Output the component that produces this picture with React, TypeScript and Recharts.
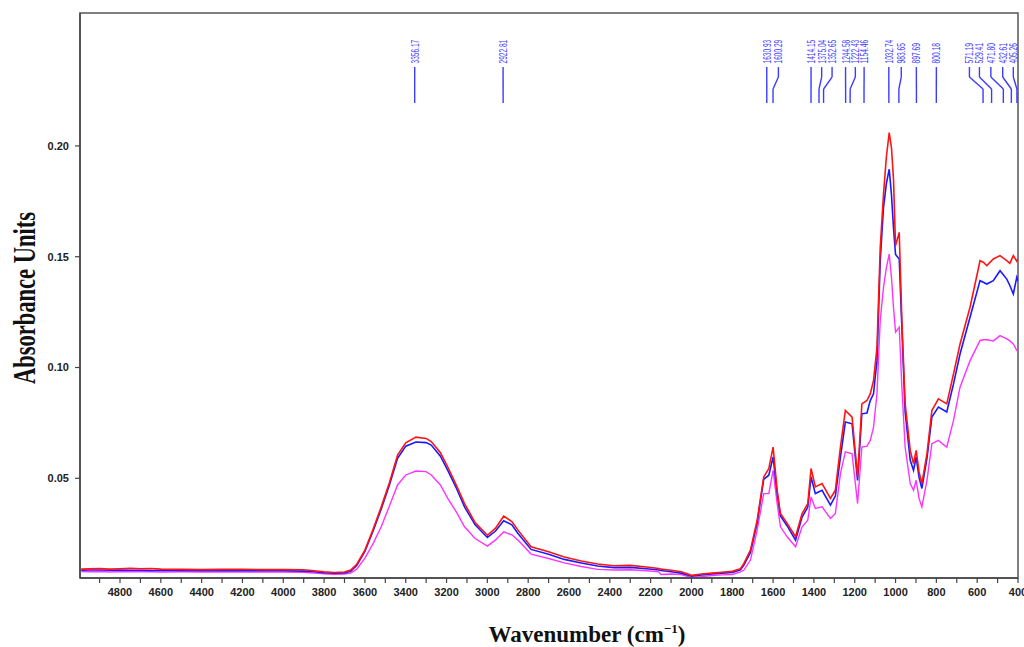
import React from "react";
import {
  LineChart,
  Line,
  XAxis,
  YAxis,
  ReferenceLine,
  ReferenceDot,
  ReferenceArea,
} from "recharts";

// Wavenumber (cm-1), descending
const wavenumbers = [
  4990, 4950, 4900, 4850, 4800, 4750, 4700, 4650, 4600, 4500, 4400, 4300, 4200, 4100, 4000,
  3900, 3850, 3800, 3750, 3700, 3670, 3640, 3600, 3560, 3520, 3480, 3440, 3400, 3350, 3300,
  3275, 3230, 3194, 3150, 3112, 3060, 3000, 2960, 2920, 2880, 2850, 2786, 2700, 2623, 2540,
  2460, 2380, 2300, 2220, 2160, 2150, 2100, 2050, 2000, 1950, 1900, 1850, 1800, 1760, 1743,
  1711, 1678, 1646, 1621, 1600, 1580, 1564, 1531, 1490, 1458, 1430, 1414, 1393, 1360, 1319,
  1295, 1270, 1246, 1213, 1186, 1165, 1140, 1124, 1108, 1091, 1075, 1059, 1045, 1031, 1020,
  1010, 1000, 982, 969, 953, 928, 912, 899, 885, 871, 846, 822, 790, 749, 716,
  684, 635, 586, 570, 553, 521, 488, 455, 440, 423, 406, 400,
];

const redSeries = [
  0.0090, 0.0091, 0.0093, 0.0090, 0.0092, 0.0094, 0.0092, 0.0093, 0.0090, 0.0089, 0.0088, 0.0089, 0.0089, 0.0088, 0.0088,
  0.0087, 0.0083, 0.0078, 0.0075, 0.0077, 0.0086, 0.0112, 0.0176, 0.0270, 0.0371, 0.0480, 0.0605, 0.0660, 0.0686, 0.0680,
  0.0666, 0.0615, 0.0551, 0.0465, 0.0386, 0.0300, 0.0243, 0.0275, 0.0329, 0.0305, 0.0266, 0.0191, 0.0168, 0.0145, 0.0127,
  0.0113, 0.0105, 0.0107, 0.0100, 0.0093, 0.0090, 0.0085, 0.0078, 0.0062, 0.0068, 0.0072, 0.0076, 0.0080, 0.0092, 0.0116,
  0.0176, 0.0311, 0.0506, 0.0544, 0.0641, 0.0446, 0.0341, 0.0296, 0.0236, 0.0341, 0.0386, 0.0544, 0.0461, 0.0476, 0.0409,
  0.0446, 0.0641, 0.0806, 0.0776, 0.0506, 0.0836, 0.0851, 0.0881, 0.0941, 0.1090, 0.1542, 0.1782, 0.1950, 0.2060, 0.1992,
  0.1850, 0.1550, 0.1610, 0.1212, 0.0836, 0.0626, 0.0566, 0.0626, 0.0530, 0.0476, 0.0611, 0.0806, 0.0859, 0.0836, 0.0971,
  0.1106, 0.1272, 0.1482, 0.1475, 0.1460, 0.1490, 0.1505, 0.1482, 0.1470, 0.1505, 0.1480, 0.1490,
];

const blueSeries = [
  0.0085, 0.0086, 0.0086, 0.0085, 0.0086, 0.0085, 0.0085, 0.0084, 0.0084, 0.0084, 0.0083, 0.0083, 0.0083, 0.0083, 0.0083,
  0.0081, 0.0078, 0.0074, 0.0072, 0.0073, 0.0080, 0.0106, 0.0170, 0.0262, 0.0362, 0.0470, 0.0590, 0.0645, 0.0664, 0.0661,
  0.0650, 0.0600, 0.0536, 0.0452, 0.0371, 0.0290, 0.0233, 0.0262, 0.0308, 0.0290, 0.0251, 0.0179, 0.0157, 0.0134, 0.0118,
  0.0104, 0.0097, 0.0098, 0.0092, 0.0086, 0.0084, 0.0078, 0.0072, 0.0058, 0.0064, 0.0068, 0.0072, 0.0075, 0.0087, 0.0108,
  0.0165, 0.0300, 0.0495, 0.0514, 0.0596, 0.0432, 0.0330, 0.0285, 0.0221, 0.0325, 0.0370, 0.0506, 0.0431, 0.0446, 0.0379,
  0.0420, 0.0596, 0.0754, 0.0746, 0.0490, 0.0791, 0.0795, 0.0851, 0.0881, 0.1031, 0.1482, 0.1722, 0.1830, 0.1895, 0.1780,
  0.1630, 0.1510, 0.1490, 0.1180, 0.0800, 0.0581, 0.0536, 0.0596, 0.0505, 0.0454, 0.0590, 0.0776, 0.0821, 0.0799, 0.0926,
  0.1061, 0.1227, 0.1392, 0.1385, 0.1377, 0.1392, 0.1437, 0.1399, 0.1370, 0.1332, 0.1407, 0.1390,
];

const magentaSeries = [
  0.0079, 0.0078, 0.0079, 0.0077, 0.0079, 0.0078, 0.0079, 0.0078, 0.0077, 0.0078, 0.0077, 0.0077, 0.0077, 0.0077, 0.0077,
  0.0076, 0.0072, 0.0069, 0.0067, 0.0068, 0.0072, 0.0090, 0.0140, 0.0205, 0.0281, 0.0375, 0.0470, 0.0515, 0.0533, 0.0530,
  0.0515, 0.0470, 0.0409, 0.0345, 0.0281, 0.0228, 0.0194, 0.0222, 0.0258, 0.0245, 0.0221, 0.0158, 0.0138, 0.0118, 0.0102,
  0.0089, 0.0086, 0.0087, 0.0083, 0.0078, 0.0066, 0.0068, 0.0065, 0.0052, 0.0056, 0.0061, 0.0064, 0.0066, 0.0078, 0.0086,
  0.0131, 0.0266, 0.0431, 0.0431, 0.0536, 0.0386, 0.0281, 0.0236, 0.0191, 0.0281, 0.0311, 0.0416, 0.0364, 0.0371, 0.0319,
  0.0341, 0.0521, 0.0619, 0.0611, 0.0386, 0.0641, 0.0645, 0.0671, 0.0730, 0.0881, 0.1212, 0.1362, 0.1450, 0.1512, 0.1407,
  0.1272, 0.1160, 0.1182, 0.0911, 0.0640, 0.0476, 0.0446, 0.0491, 0.0410, 0.0371, 0.0491, 0.0656, 0.0671, 0.0640, 0.0761,
  0.0911, 0.1031, 0.1122, 0.1125, 0.1125, 0.1120, 0.1144, 0.1129, 0.1120, 0.1106, 0.1077, 0.1070,
];

// Peak annotations (cm-1) and where each label sits along the axis
const peakPositions = [
  3356.17, 2922.81, 1630.93, 1600.29, 1414.15, 1375.04, 1352.65, 1244.58, 1222.43, 1154.46,
  1032.74, 983.65, 897.69, 800.18, 571.19, 529.41, 471.8, 432.61, 405.26,
];
const peakLabelAt = [
  3356, 2923, 1631, 1574, 1414, 1362, 1311, 1245, 1197, 1154,
  1033, 972, 898, 800, 638, 589, 533, 475, 423,
];
const peakLabels = peakPositions.map((p) => p.toFixed(2));

const xTicks = [
  400, 500, 600, 700, 800, 900, 1000, 1100, 1200, 1300, 1400, 1500, 1600, 1700, 1800, 1900, 2000,
  2100, 2200, 2300, 2400, 2500, 2600, 2700, 2800, 2900, 3000, 3100, 3200, 3300, 3400, 3500, 3600,
  3700, 3800, 3900, 4000, 4100, 4200, 4300, 4400, 4500, 4600, 4700, 4800, 4900,
];
const yTicks = [0.05, 0.1, 0.15, 0.2];

const X_MIN = 400;
const X_MAX = 4996;
const Y_MIN = 0.005;
const Y_MAX = 0.26;

const chartData = wavenumbers.map((w, i) => ({
  wn: w,
  red: redSeries[i],
  blue: blueSeries[i],
  magenta: magentaSeries[i],
}));

const ANN_COLOR = "#3c3cff";
const Y_TEXT = 0.2372;
const Y_TOP = 0.2356;
const Y_K1 = 0.2311;
const Y_K2 = 0.2257;
const Y_BOT = 0.2194;

const tickFont = {
  fontSize: 11,
  fontWeight: 700,
  fill: "#222",
  fontFamily: "'Liberation Sans', Arial, sans-serif",
};

export default function App() {
  return (
    <div style={{ position: "absolute", left: 0, top: 0, width: 1024, height: 647, background: "#fff" }}>
      <LineChart
        width={1024}
        height={647}
        data={chartData}
        margin={{ top: 13, right: 6, bottom: 0, left: 0 }}
      >
        <XAxis
          dataKey="wn"
          type="number"
          domain={[X_MIN, X_MAX]}
          reversed
          allowDataOverflow
          ticks={xTicks}
          interval={0}
          tickFormatter={(v: number) => (v % 200 === 0 ? String(v) : "")}
          tick={tickFont}
          tickSize={5}
          tickMargin={5}
          height={69}
          axisLine={{ stroke: "#444", strokeWidth: 1.5 }}
          tickLine={{ stroke: "#444", strokeWidth: 1.2 }}
        />
        <YAxis
          type="number"
          domain={[Y_MIN, Y_MAX]}
          allowDataOverflow
          ticks={yTicks}
          interval={0}
          tickFormatter={(v: number) => v.toFixed(2)}
          tick={tickFont}
          tickSize={5}
          tickMargin={6}
          width={80}
          axisLine={{ stroke: "#444", strokeWidth: 1.5 }}
          tickLine={{ stroke: "#444", strokeWidth: 1.2 }}
        />
        <ReferenceArea
          x1={X_MIN}
          x2={X_MAX}
          y1={Y_MIN}
          y2={Y_MAX}
          fill="none"
          fillOpacity={0}
          stroke="#555"
          strokeWidth={1.5}
          ifOverflow="visible"
        />
        <Line type="linear" dataKey="magenta" stroke="#ff33ff" strokeWidth={1.4} dot={false} isAnimationActive={false} />
        <Line type="linear" dataKey="blue" stroke="#1a1aff" strokeWidth={1.6} dot={false} isAnimationActive={false} />
        <Line type="linear" dataKey="red" stroke="#ff1414" strokeWidth={1.6} dot={false} isAnimationActive={false} />
        {peakPositions.map((p, i) => (
          <ReferenceLine
            key={`a${i}`}
            segment={[
              { x: peakLabelAt[i], y: Y_TOP },
              { x: peakLabelAt[i], y: Y_K1 },
            ]}
            stroke={ANN_COLOR}
            strokeWidth={1.4}
            ifOverflow="visible"
          />
        ))}
        {peakPositions.map((p, i) => (
          <ReferenceLine
            key={`b${i}`}
            segment={[
              { x: peakLabelAt[i], y: Y_K1 },
              { x: p, y: Y_K2 },
            ]}
            stroke={ANN_COLOR}
            strokeWidth={1.4}
            ifOverflow="visible"
          />
        ))}
        {peakPositions.map((p, i) => (
          <ReferenceLine
            key={`c${i}`}
            segment={[
              { x: p, y: Y_K2 },
              { x: p, y: Y_BOT },
            ]}
            stroke={ANN_COLOR}
            strokeWidth={1.4}
            ifOverflow="visible"
          />
        ))}
        {peakLabelAt.map((w, i) => (
          <ReferenceDot
            key={`t${i}`}
            x={w}
            y={Y_TEXT}
            r={0}
            ifOverflow="visible"
            shape={(props: any) => {
              const cx = props.cx;
              const cy = props.cy;
              const label = peakLabels[i];
              return (
                <text
                  x={cx}
                  y={cy}
                  transform={`rotate(-90 ${cx} ${cy})`}
                  fontSize={10.5}
                  fontFamily="'Liberation Sans', Arial, sans-serif"
                  fill={ANN_COLOR}
                  textAnchor="start"
                  dominantBaseline="central"
                  textLength={label.length * 3.4}
                  lengthAdjust="spacingAndGlyphs"
                >
                  {label}
                </text>
              );
            }}
          />
        ))}
      </LineChart>
      <svg
        width={1024}
        height={647}
        style={{ position: "absolute", left: 0, top: 0, pointerEvents: "none" }}
      >
        <text
          x={35}
          y={298}
          transform="rotate(-90 35 298)"
          textAnchor="middle"
          fontFamily="'Liberation Serif', 'Times New Roman', serif"
          fontWeight={700}
          fontSize={31}
          textLength={172}
          lengthAdjust="spacingAndGlyphs"
          fill="#111"
        >
          Absorbance Units
        </text>
        <text
          x={587}
          y={642}
          textAnchor="middle"
          fontFamily="'Liberation Serif', 'Times New Roman', serif"
          fontWeight={700}
          fontSize={23}
          fill="#111"
        >
          Wavenumber (cm
          <tspan fontSize={13} dy={-9}>
            −1
          </tspan>
          <tspan dy={9}>)</tspan>
        </text>
      </svg>
    </div>
  );
}
